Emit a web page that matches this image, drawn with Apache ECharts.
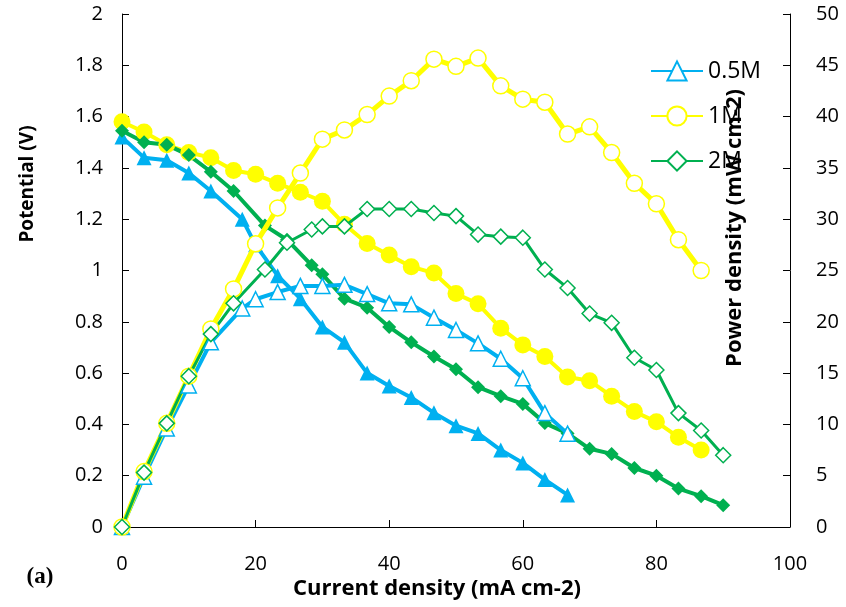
<!DOCTYPE html>
<html>
<head>
<meta charset="utf-8">
<script src="https://cdn.jsdelivr.net/npm/echarts@6/dist/echarts.min.js"></script>
<style>
html,body{margin:0;padding:0;background:#fff;}
#chart{width:846px;height:607px;}
</style>
</head>
<body>
<div id="chart"></div>
<script>
// Current density (mA cm-2) for each concentration
const x05 = [0, 3.3, 6.7, 10, 13.3, 18, 20, 23.3, 26.7, 30, 33.3, 36.7, 40, 43.3, 46.7, 50, 53.3, 56.7, 60, 63.3, 66.7];
const x1  = [0, 3.3, 6.7, 10, 13.3, 16.7, 20, 23.3, 26.7, 30, 33.3, 36.7, 40, 43.3, 46.7, 50, 53.3, 56.7, 60, 63.3, 66.7, 70, 73.3, 76.7, 80, 83.3, 86.7];
const x2  = [0, 3.3, 6.7, 10, 13.3, 16.7, 21.4, 24.7, 28.4, 30, 33.3, 36.7, 40, 43.3, 46.7, 50, 53.3, 56.7, 60, 63.3, 66.7, 70, 73.3, 76.7, 80, 83.3, 86.7, 90];

// Potential (V)
const v05 = [1.52, 1.44, 1.43, 1.38, 1.31, 1.20, 1.10, 0.98, 0.89, 0.78, 0.72, 0.60, 0.55, 0.505, 0.445, 0.395, 0.365, 0.30, 0.25, 0.185, 0.125];
const v1  = [1.58, 1.54, 1.49, 1.46, 1.44, 1.39, 1.375, 1.34, 1.305, 1.27, 1.18, 1.105, 1.06, 1.015, 0.99, 0.91, 0.87, 0.775, 0.71, 0.665, 0.585, 0.57, 0.51, 0.45, 0.41, 0.35, 0.30];
const v2  = [1.545, 1.50, 1.49, 1.45, 1.385, 1.31, 1.175, 1.12, 1.02, 0.985, 0.89, 0.855, 0.78, 0.72, 0.665, 0.615, 0.545, 0.51, 0.48, 0.405, 0.365, 0.305, 0.285, 0.23, 0.20, 0.15, 0.12, 0.085];

// Power density (mW cm-2)
const p05 = [0, 4.9, 9.6, 13.8, 18.0, 21.3, 22.2, 22.9, 23.5, 23.5, 23.6, 22.7, 21.8, 21.7, 20.4, 19.2, 17.9, 16.4, 14.5, 11.1, 9.1];
const p1  = [0, 5.4, 10.1, 14.7, 19.3, 23.2, 27.6, 31.1, 34.5, 37.8, 38.7, 40.2, 42.0, 43.5, 45.6, 44.9, 45.7, 43.0, 41.7, 41.4, 38.3, 39.0, 36.5, 33.5, 31.5, 28.0, 25.0];
const p2  = [0, 5.3, 10.1, 14.7, 18.8, 21.8, 25.1, 27.7, 29.0, 29.3, 29.3, 31.0, 31.0, 31.0, 30.6, 30.3, 28.5, 28.3, 28.2, 25.1, 23.3, 20.8, 19.9, 16.5, 15.3, 11.1, 9.4, 7.0];

const seriesNames = ['0.5M', '1M', '2M'];
const xTicks = [0, 20, 40, 60, 80, 100];

const BLUE = '#00B0F0', YELLOW = '#FFFF00', GREEN = '#00B050';
const FONT = 'Open Sans';

function pairs(xs, ys) { return xs.map((x, i) => [x, ys[i]]); }

function filled(name, xs, ys, color, symbol, size) {
  return {
    name: name, type: 'line', yAxisIndex: 0, data: pairs(xs, ys),
    symbol: symbol, symbolSize: size, showAllSymbol: true,
    lineStyle: {color: color, width: 4},
    itemStyle: {color: color, borderColor: color, borderWidth: 0},
    emphasis: {disabled: true}, animation: false, z: 2
  };
}
function open(name, xs, ys, color, symbol, size, lw) {
  return {
    name: name, type: 'line', yAxisIndex: 1, data: pairs(xs, ys),
    symbol: symbol, symbolSize: size, showAllSymbol: true,
    lineStyle: {color: color, width: lw},
    itemStyle: {color: '#ffffff', borderColor: color, borderWidth: 1.5},
    emphasis: {disabled: true}, animation: false, z: 3
  };
}

const chart = echarts.init(document.getElementById('chart'), null, {renderer: 'canvas'});
const axisCommon = {
  axisLine: {show: true, lineStyle: {color: '#000', width: 1}},
  axisTick: {show: true, inside: true, length: 7, lineStyle: {color: '#000', width: 1}},
  splitLine: {show: false},
  axisLabel: {color: '#000', fontFamily: FONT, fontSize: 20}
};

chart.setOption({
  animation: false,
  backgroundColor: '#fff',
  grid: {left: 122, right: 56, top: 14, bottom: 80, containLabel: false},
  xAxis: Object.assign({}, axisCommon, {
    type: 'value', min: xTicks[0], max: xTicks[xTicks.length - 1], interval: 20,
    axisLabel: Object.assign({}, axisCommon.axisLabel, {margin: 27})
  }),
  yAxis: [
    Object.assign({}, axisCommon, {
      type: 'value', min: 0, max: 2, interval: 0.2, position: 'left',
      axisLabel: Object.assign({}, axisCommon.axisLabel, {margin: 19})
    }),
    Object.assign({}, axisCommon, {
      type: 'value', min: 0, max: 50, interval: 5, position: 'right',
      axisLabel: Object.assign({}, axisCommon.axisLabel, {margin: 26})
    })
  ],
  legend: {
    data: seriesNames,
    orient: 'vertical', left: 645, top: 54,
    itemWidth: 52, itemHeight: 24, itemGap: 21,
    textStyle: {color: '#000', fontFamily: FONT, fontSize: 23, lineHeight: 24},
    selectedMode: false
  },
  series: [
    filled('0.5M V', x05, v05, BLUE, 'triangle', 15),
    filled('1M V', x1, v1, YELLOW, 'circle', 17),
    filled('2M V', x2, v2, GREEN, 'diamond', 14),
    open(seriesNames[0], x05, p05, BLUE, 'triangle', 15, 4),
    open(seriesNames[1], x1, p1, YELLOW, 'circle', 16, 5),
    open(seriesNames[2], x2, p2, GREEN, 'diamond', 15, 3)
  ],
  graphic: [
    {type: 'text', x: 437, y: 589, z: 10,
     style: {text: 'Current density (mA cm-2)', align: 'center', verticalAlign: 'middle',
             fontFamily: FONT, fontWeight: 'bold', fontSize: 22, fill: '#000'}},
    {type: 'text', x: 28, y: 184, rotation: Math.PI / 2, z: 10,
     style: {text: 'Potential (V)', align: 'center', verticalAlign: 'middle',
             fontFamily: FONT, fontWeight: 'bold', fontSize: 19, fill: '#000'}},
    {type: 'text', x: 735, y: 228, rotation: Math.PI / 2, z: 10,
     style: {text: 'Power density (mW cm-2)', align: 'center', verticalAlign: 'middle',
             fontFamily: FONT, fontWeight: 'bold', fontSize: 22, fill: '#000'}},
    {type: 'text', x: 40, y: 577, z: 10,
     style: {text: '(a)', align: 'center', verticalAlign: 'middle',
             fontFamily: 'Liberation Serif', fontWeight: 'bold', fontSize: 23, fill: '#000'}}
  ]
});
</script>
</body>
</html>
